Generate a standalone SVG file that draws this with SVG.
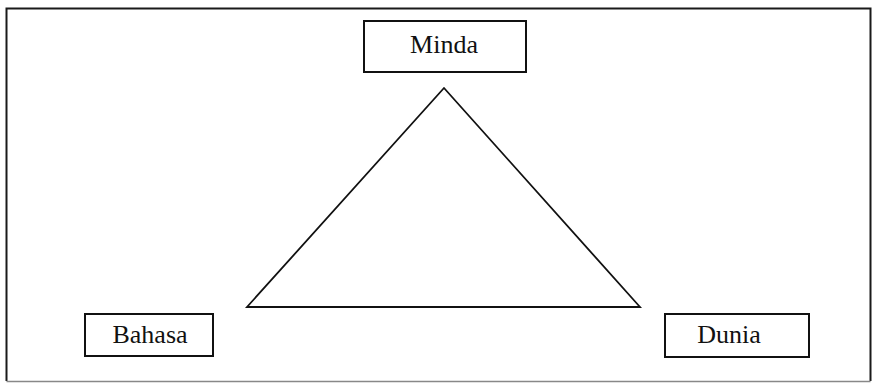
<svg xmlns="http://www.w3.org/2000/svg" width="872" height="383" viewBox="0 0 872 383">
<style>
.box{fill:#fff;stroke:#111;stroke-width:2}
.lbl{font-family:"Liberation Serif","Times New Roman",serif;font-size:26px;fill:#111;text-anchor:middle}
.edge{fill:none;stroke:#111;stroke-width:1.8;stroke-linejoin:miter}
</style>
<rect width="872" height="383" fill="#fff"/>
<g id="frame">
<path d="M6.5 381 V8.5 H870.5 V381" fill="none" stroke="#1a1a1a" stroke-width="2"/>
<path d="M6.5 381.5 H870.5" fill="none" stroke="#888" stroke-width="1.5"/>
</g>
<g id="connectors">
<path class="edge" d="M444 88 L640 307 L247 307 Z"/>
</g>
<g id="minda">
<rect class="box" x="364" y="21" width="162" height="51"/>
<text class="lbl" x="444" y="53">Minda</text>
</g>
<g id="bahasa">
<rect class="box" x="85" y="314" width="128" height="42"/>
<text class="lbl" x="150" y="343">Bahasa</text>
</g>
<g id="dunia">
<rect class="box" x="665" y="314" width="144" height="43"/>
<text class="lbl" x="729" y="343">Dunia</text>
</g>
</svg>
